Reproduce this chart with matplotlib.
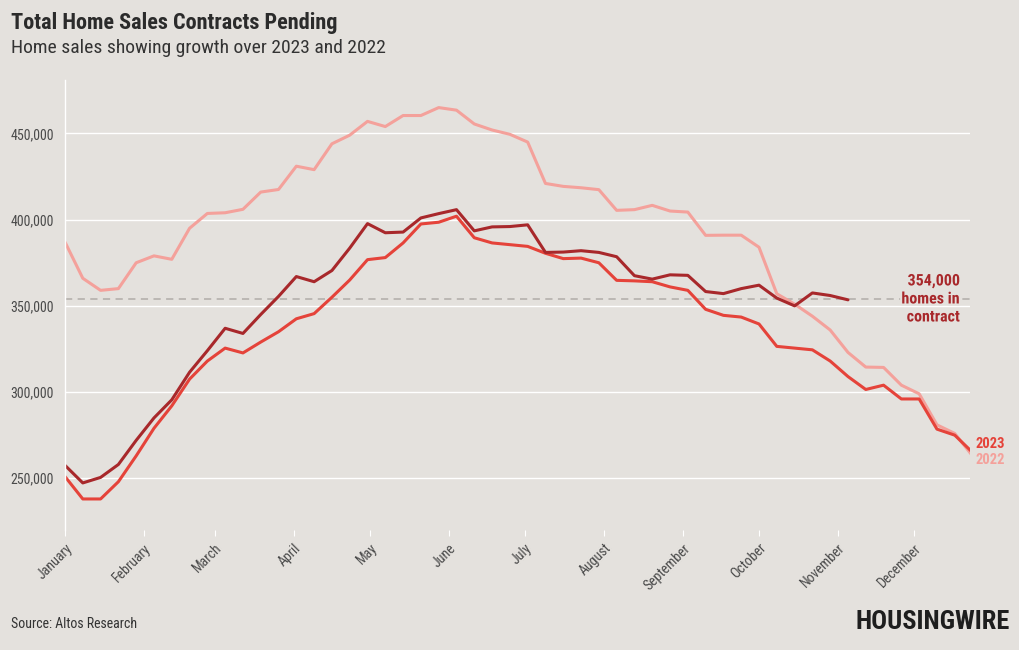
import matplotlib
matplotlib.use("Agg")
import matplotlib.pyplot as plt
import matplotlib.patheffects as pe
from matplotlib.ticker import FuncFormatter

plt.rcParams['font.family'] = ['Roboto Condensed', 'Roboto', 'DejaVu Sans']

# weekly readings, in thousands of homes
week_days = [7 * i for i in range(52)]

sales_2022 = [387, 366, 359, 360, 375, 379, 377, 395, 403.6, 404, 406, 416, 417.5,
              431, 429, 444, 449, 457, 454, 460.4, 460.4, 465, 463.5, 455.5, 452,
              449.5, 445, 421, 419.3, 418.5, 417.4, 405.4, 405.8, 408.3, 405, 404.4,
              390.9, 391, 391, 384, 357, 351, 344, 336, 323, 314.5, 314.3, 304, 299,
              281, 276, 263]

sales_2023 = [251, 238, 238, 248, 263, 279, 292, 307.5, 318, 325.5, 322.7, 329, 335,
              342.5, 345.5, 355, 365, 376.8, 378, 386.5, 397.5, 398.5, 402, 389.5,
              386.5, 385.5, 384.5, 380.5, 377.4, 377.7, 375, 364.8, 364.5, 364, 361,
              359, 348, 344.5, 343.5, 339.5, 326.5, 325.5, 324.5, 318, 309, 301.5,
              304, 296, 296, 278.5, 275, 265]

sales_2024 = [257.5, 247.3, 250.5, 258, 272, 285, 295.5, 311.5, 324, 337, 334, 345,
              355.5, 367, 364, 370.5, 383.5, 397.7, 392.4, 392.8, 401, 403.5, 405.8,
              393.5, 395.8, 396, 397, 381, 381.2, 382, 381, 378.5, 367.5, 365.5, 368,
              367.7, 358.3, 357.1, 360, 362, 354.5, 350, 357.5, 356, 353.5]

month_days = [0, 31, 59, 90, 120, 151, 181, 212, 243, 273, 304, 334]
month_names = ['January', 'February', 'March', 'April', 'May', 'June', 'July',
               'August', 'September', 'October', 'November', 'December']
y_ticks = [250000, 300000, 350000, 400000, 450000]
current_level = 354000

bg = '#e4e1dd'
c2022 = '#f4a19b'
c2023 = '#e5433a'
c2024 = '#a8282b'

fig = plt.figure(figsize=(10.2, 6.5), dpi=100, facecolor=bg)
ax = fig.add_axes([65 / 1020, 120 / 650, 905 / 1020, 450 / 650])
ax.set_facecolor(bg)

ax.plot(week_days, [v * 1000 for v in sales_2022], color=c2022, lw=2.2, solid_capstyle='round')
ax.plot(week_days, [v * 1000 for v in sales_2023], color=c2023, lw=2.2, solid_capstyle='round')
ax.plot(week_days[:len(sales_2024)], [v * 1000 for v in sales_2024], color=c2024, lw=2.2,
        solid_capstyle='round')

ax.axhline(current_level, color='#b8b4b0', lw=1.3, ls=(0, (4, 3)), zorder=1)

ax.set_xlim(0, 356)
ax.set_ylim(220000, 481000)
ax.set_yticks(y_ticks)
ax.yaxis.set_major_formatter(FuncFormatter(lambda v, p: f'{int(v):,}'))
ax.set_xticks(month_days)
ax.set_xticklabels(month_names, rotation=45, ha='right', rotation_mode='anchor')
ax.grid(axis='y', color='white', lw=1)
ax.set_axisbelow(True)
for s in ['top', 'right', 'bottom']:
    ax.spines[s].set_visible(False)
ax.spines['left'].set_color('white')
ax.spines['left'].set_linewidth(1)
ax.tick_params(axis='y', length=0, pad=8, labelsize=10, labelcolor='#4a4a4a')
ax.tick_params(axis='x', length=4, color='white', pad=4, labelsize=10, labelcolor='#4a4a4a')

halo = [pe.withStroke(linewidth=3, foreground=bg)]
ax.text(352, current_level, '354,000\nhomes in\ncontract', ha='right', va='center',
        fontsize=11.5, fontweight='bold', color=c2024, linespacing=1.25,
        path_effects=halo)
ax.text(358, 270000, '2023', ha='left', va='center', fontsize=10.5, fontweight='bold',
        color=c2023, clip_on=False)
ax.text(358, 260500, '2022', ha='left', va='center', fontsize=10.5, fontweight='bold',
        color=c2022, clip_on=False)

fig.text(11 / 1020, 1 - 23 / 650, 'Total Home Sales Contracts Pending', ha='left', va='center',
         fontsize=16, fontweight='bold', color='#2b2b2b')
fig.text(11 / 1020, 1 - 48 / 650, 'Home sales showing growth over 2023 and 2022', ha='left',
         va='center', fontsize=14, color='#333333')
fig.text(11 / 1020, 1 - 624 / 650, 'Source: Altos Research', ha='left', va='center',
         fontsize=10, color='#333333')
fig.text(1010 / 1020, 1 - 622 / 650, 'HOUSINGWIRE', ha='right', va='center', fontsize=19,
         fontweight='heavy', color='#1e1e1e')

fig.savefig('out.png', dpi=100, facecolor=bg)
